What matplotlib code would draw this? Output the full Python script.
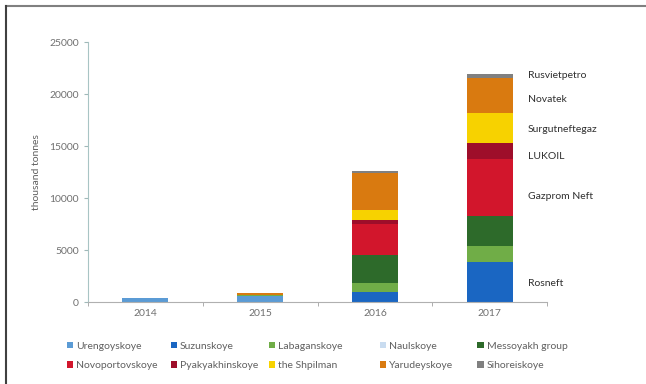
import numpy as np
import matplotlib
matplotlib.use("Agg")
import matplotlib.pyplot as plt
from matplotlib.lines import Line2D

plt.rcParams['font.family'] = ['Lato', 'DejaVu Sans']

# data (thousand tonnes)
years = ["2014", "2015", "2016", "2017"]
fields = ["Urengoyskoye", "Suzunskoye", "Labaganskoye", "Naulskoye", "Messoyakh group",
          "Novoportovskoye", "Pyakyakhinskoye", "the Shpilman", "Yarudeyskoye", "Sihoreiskoye"]
urengoy = [380, 560, 0, 0]
suzun = [0, 0, 960, 3850]
labagan = [0, 120, 870, 1500]
naul = [0, 0, 0, 0]
messoyakh = [0, 0, 2660, 2900]
novoport = [0, 0, 3050, 5550]
pyakyakh = [0, 0, 320, 1450]
shpilman = [0, 0, 960, 2900]
yarudey = [0, 150, 3590, 3400]
sihorei = [0, 0, 160, 400]
colors = ["#5b9bd5", "#1a66c2", "#70ad47", "#c9dcf0", "#2d6a2a",
          "#d2162c", "#9e0e2a", "#f7d200", "#d97a10", "#808080"]

companies = ["Rusvietpetro", "Novatek", "Surgutneftegaz", "LUKOIL", "Gazprom Neft", "Rosneft"]
company_y = [21800, 19500, 16550, 13950, 10100, 1800]

series = [urengoy, suzun, labagan, naul, messoyakh, novoport, pyakyakh, shpilman, yarudey, sihorei]

fig = plt.figure(figsize=(6.46, 3.84), dpi=100)
ax = fig.add_axes([0.136, 0.2135, 0.711, 0.677])

x = np.arange(len(years))
bottom = np.zeros(len(years))
bars = []
for vals, c, name in zip(series, colors, fields):
    b = ax.bar(x, vals, 0.4, bottom=bottom, color=c, label=name)
    bars.append(b)
    bottom += np.array(vals)

ax.set_xlim(-0.5, 3.5)
ax.set_ylim(0, 25000)
ax.set_yticks(np.arange(0, 25001, 5000))
ax.set_xticks(x)
ax.set_xticklabels(years)
ax.set_xticks(np.arange(-0.5, 3.6, 1), minor=True)
ax.tick_params(axis='x', which='major', length=0, labelsize=7.5, colors='#707070', pad=5)
ax.tick_params(axis='x', which='minor', length=3, color='#a0a0a0')
ax.tick_params(axis='y', length=3, labelsize=7.5, colors='#707070', color='#a0b8b8')
for s in ['top', 'right']:
    ax.spines[s].set_visible(False)
ax.spines['left'].set_color('#a8c4c4')
ax.spines['bottom'].set_color('#b0b0b0')
ax.set_ylabel("thousand tonnes", fontsize=7.5, color='#606060', labelpad=6)

for name, yy in zip(companies, company_y):
    ax.text(3.33, yy, name, fontsize=7.5, color='#303030', va='center', ha='left')

# legend: five columns of two entries, placed like the original
col_x = [0.103, 0.264, 0.416, 0.588, 0.739]
for i, cx in enumerate(col_x):
    leg = fig.legend([bars[i], bars[i + 5]], [fields[i], fields[i + 5]],
                     loc='upper left', bbox_to_anchor=(cx, 0.11), frameon=False,
                     fontsize=7.5, labelcolor='#606060', handlelength=0.6,
                     handleheight=0.6, handletextpad=0.3, labelspacing=1.0,
                     borderaxespad=0, borderpad=0)

# frame lines of the original image
fig.add_artist(Line2D([0.009, 1], [0.984, 0.984], transform=fig.transFigure, color='#808080', lw=1.5))
fig.add_artist(Line2D([0.009, 0.009], [0, 0.984], transform=fig.transFigure, color='#404040', lw=1.5))

fig.savefig("out.png", dpi=100)
